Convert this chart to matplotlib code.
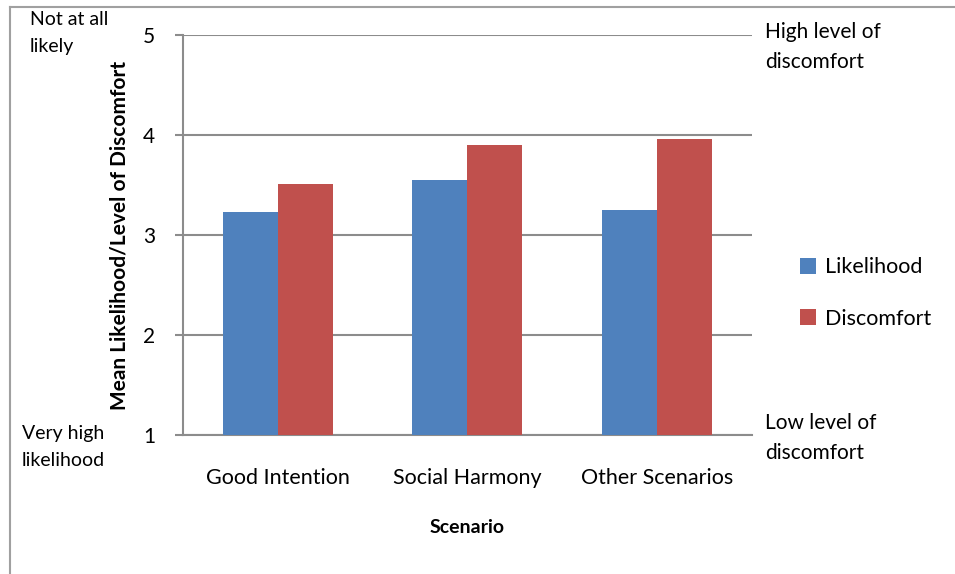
import numpy as np
import matplotlib
matplotlib.use('Agg')
import matplotlib.pyplot as plt
from matplotlib.lines import Line2D

plt.rcParams['font.family'] = ['Lato', 'DejaVu Sans']

scenarios = ['Good Intention', 'Social Harmony', 'Other Scenarios']
likelihood = [3.23, 3.55, 3.25]
discomfort = [3.51, 3.90, 3.96]

blue = '#4F81BD'
red = '#C0504D'
grid_col = '#8C8C8C'

fig = plt.figure(figsize=(9.55, 5.74), dpi=100)
ax = fig.add_axes([0.1916, 0.2422, 0.5958, 0.6968])

x = np.arange(len(scenarios))
w = 0.29
ax.bar(x - w/2, [v - 1 for v in likelihood], w, bottom=1, color=blue, label='Likelihood', zorder=3)
ax.bar(x + w/2, [v - 1 for v in discomfort], w, bottom=1, color=red, label='Discomfort', zorder=3)

ax.set_xlim(-0.5, 2.5)
ax.set_ylim(1, 5)
ax.set_yticks([1, 2, 3, 4, 5])
ax.set_xticks(x)
ax.set_xticklabels(scenarios, fontsize=15.5)
ax.tick_params(axis='y', labelsize=15, length=6, color=grid_col, width=1.5, pad=14)
ax.tick_params(axis='x', length=0, pad=24)
ax.yaxis.grid(True, color=grid_col, linewidth=1.5, zorder=0)
for s in ['top', 'right']:
    ax.spines[s].set_visible(False)
ax.spines['left'].set_color(grid_col)
ax.spines['left'].set_linewidth(1.5)
ax.spines['bottom'].set_color(grid_col)
ax.spines['bottom'].set_linewidth(1.5)

ax.set_ylabel('Mean Likelihood/Level of Discomfort', fontsize=15, fontweight='bold', labelpad=10)
ax.set_xlabel('Scenario', fontsize=14, fontweight='bold', labelpad=22)

ax.legend(loc='center left', bbox_to_anchor=(1.05, 0.355), frameon=False, fontsize=15.5,
          handlelength=0.75, handleheight=0.75, labelspacing=1.45, handletextpad=0.4)

fig.text(30/955, 1 - 11/574, 'Not at all\nlikely', fontsize=14, va='top', ha='left', linespacing=1.7)
fig.text(22/955, 1 - 425/574, 'Very high\nlikelihood', fontsize=14, va='top', ha='left', linespacing=1.7)
fig.text(765/955, 1 - 22/574, 'High level of\ndiscomfort', fontsize=15, va='top', ha='left', linespacing=1.6)
fig.text(765/955, 1 - 413/574, 'Low level of\ndiscomfort', fontsize=15, va='top', ha='left', linespacing=1.6)

# frame lines on left and top only
fig.add_artist(Line2D([10/955, 10/955], [0, 1 - 7/574], transform=fig.transFigure,
                      color='#A0A0A0', linewidth=1.5))
fig.add_artist(Line2D([10/955, 1], [1 - 7/574, 1 - 7/574], transform=fig.transFigure,
                      color='#A0A0A0', linewidth=1.5))

fig.savefig('out.png', dpi=100)
